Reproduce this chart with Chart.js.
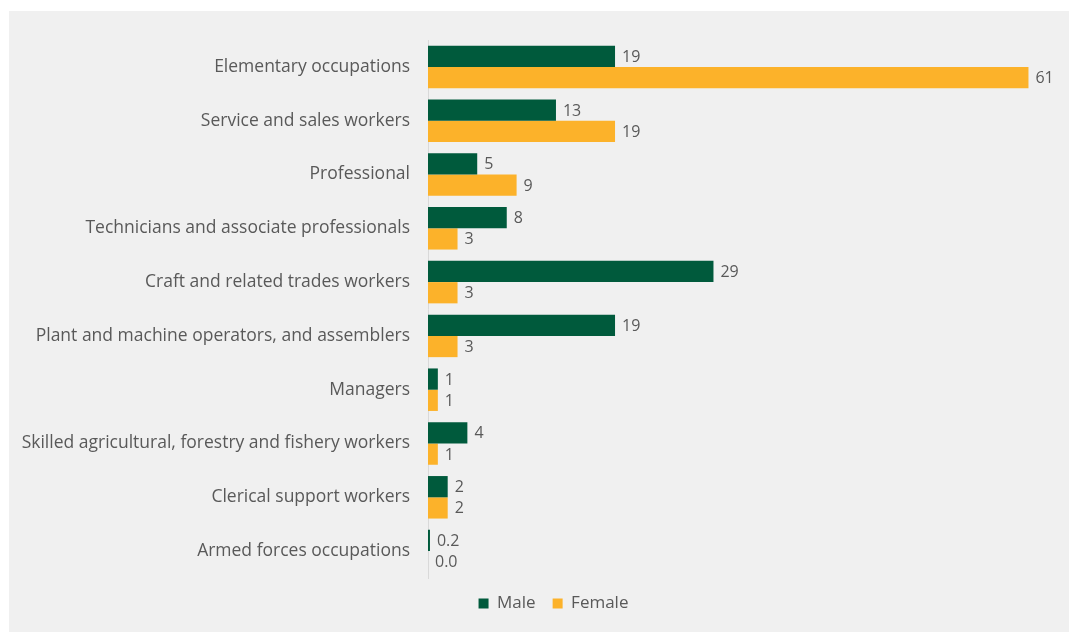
<!DOCTYPE html>
<html>
<head>
<meta charset="utf-8">
<script src="https://cdn.jsdelivr.net/npm/chart.js@4/dist/chart.umd.min.js"></script>
<style>
  html, body { margin: 0; padding: 0; background: #ffffff; }
  #panel { position: absolute; left: 9px; top: 11px; width: 1060px; height: 621px; background: #f0f0f0; }
</style>
</head>
<body>
<div id="panel"><canvas id="chart" width="1060" height="621"></canvas></div>
<script>
// occupations, top to bottom
const occupations = [
  'Elementary occupations',
  'Service and sales workers',
  'Professional',
  'Technicians and associate professionals',
  'Craft and related trades workers',
  'Plant and machine operators, and assemblers',
  'Managers',
  'Skilled agricultural, forestry and fishery workers',
  'Clerical support workers',
  'Armed forces occupations'
]
const male = [19, 13, 5, 8, 29, 19, 1, 4, 2, 0.2]
const female = [61, 19, 9, 3, 3, 3, 1, 1, 2, 0.0]

const textColor = '#595959'
const fontFamily = '"Open Sans", sans-serif'

// writes the value just right of each bar
const valueLabels = {
  id: 'valueLabels',
  afterDatasetsDraw(chart) {
    const ctx = chart.ctx
    ctx.save()
    ctx.font = '16px ' + fontFamily
    ctx.fillStyle = textColor
    ctx.textBaseline = 'middle'
    ctx.textAlign = 'left'
    chart.data.datasets.forEach((ds, i) => {
      chart.getDatasetMeta(i).data.forEach((bar, j) => {
        let v = ds.data[j]
        let txt = v < 1 ? v.toFixed(1) : v.toFixed(0)
        ctx.fillText(txt, bar.x + 7, bar.y + 1)
      })
    })
    ctx.restore()
  }
}

// legend sits a bit right of the canvas centre
const shiftLegend = {
  id: 'shiftLegend',
  afterLayout(chart) {
    chart.legend.left += 20
    chart.legend.right += 20
  }
}

new Chart(document.getElementById('chart'), {
  type: 'bar',
  data: {
    labels: occupations,
    datasets: [{
      label: 'Male',
      data: male,
      backgroundColor: '#005a3c',
      categoryPercentage: 0.79,
      barPercentage: 1
    }, {
      label: 'Female',
      data: female,
      backgroundColor: '#fcb22a',
      categoryPercentage: 0.79,
      barPercentage: 1
    }]
  },
  options: {
    indexAxis: 'y',
    responsive: false,
    animation: false,
    layout: { padding: { top: 29, right: 11, bottom: 10, left: 0 } },
    scales: {
      x: { display: false, min: 0, max: 64 },
      y: {
        afterFit(scale) { scale.width = 419 },
        grid: { display: false, drawTicks: false },
        border: { display: true, color: '#d9d9d9', width: 1 },
        ticks: { color: textColor, padding: 18, font: { family: fontFamily, size: 17.5 } }
      }
    },
    plugins: {
      tooltip: { enabled: false },
      legend: {
        position: 'bottom',
        labels: {
          boxWidth: 10,
          boxHeight: 10,
          padding: 17,
          color: textColor,
          font: { family: fontFamily, size: 17 }
        }
      }
    }
  },
  plugins: [valueLabels, shiftLegend]
})
</script>
</body>
</html>
